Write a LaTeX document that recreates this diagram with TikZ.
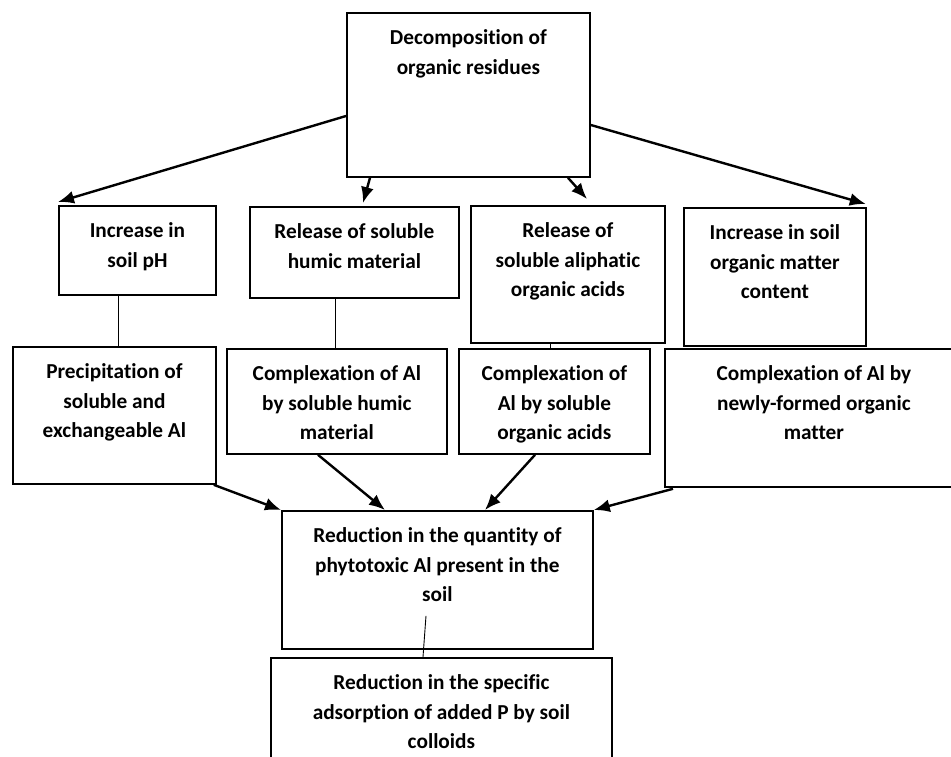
\documentclass[tikz,border=0pt]{standalone}
\usepackage{fontspec}
\setmainfont{Carlito}[Ligatures=NoCommon]
\usetikzlibrary{arrows.meta}
\newcommand{\bxt}[3]{\parbox[c][#1][t]{#2}{\centering\rule{0pt}{32pt}#3\par}}
\tikzset{
  box/.style={draw, line width=1.8pt, inner sep=0pt, anchor=north west,
    font=\fontsize{21.3}{29.5}\selectfont\bfseries},
  arr/.style={line width=2.4pt, -{Latex[length=16pt,width=13pt]}},
  link/.style={line width=0.9pt}
}
\begin{document}
\begin{tikzpicture}[x=1pt,y=-1pt]
\useasboundingbox (0,0) rectangle (951,757);
\clip (0,0) rectangle (951,757);
\node[box] (T) at (346,12) {\bxt{164pt}{243pt}{Decomposition of\\organic residues}};
\node[box] (A) at (58,205) {\bxt{89pt}{157pt}{Increase in\\soil pH}};
\node[box] (B) at (249,206) {\bxt{91pt}{209pt}{Release of soluble\\humic material}};
\node[box] (C) at (470,205) {\bxt{137pt}{194pt}{Release of\\soluble aliphatic\\organic acids}};
\node[box] (D) at (683,207) {\bxt{138pt}{182pt}{Increase in soil\\organic matter\\content}};
\node[box] (E) at (12,346) {\bxt{137pt}{203pt}{Precipitation of\\soluble and\\exchangeable Al}};
\node[box] (F) at (226,348) {\bxt{105pt}{220pt}{Complexation of Al\\by soluble humic\\material}};
\node[box] (G) at (458,348) {\bxt{105pt}{191pt}{Complexation of\\Al by soluble\\organic acids}};
\node[box] (H) at (664,348) {\bxt{138pt}{298pt}{Complexation of Al by\\newly-formed organic\\matter}};
\node[box] (I) at (281,510) {\bxt{138pt}{311pt}{Reduction in the quantity of\\phytotoxic Al present in the\\soil}};
\node[box] (J) at (270,657) {\bxt{120pt}{341pt}{Reduction in the specific\\adsorption of added P by soil\\colloids}};
% arrows from top
\draw[arr] ([shift={(0,104)}]T.north west) -- ([shift={(0,-3)}]A.north west);
\draw[arr] ([shift={(24,0)}]T.south west) -- ([shift={(114,-3)}]B.north west);
\draw[arr] ([shift={(222,0)}]T.south west) -- ([shift={(117,-6)}]C.north west);
\draw[arr] ([shift={(0,113)}]T.north east) -- ([shift={(-1,-3)}]D.north east);
% thin links
\draw[link] ([shift={(60,0)}]A.south west) -- ([shift={(106,0)}]E.north west);
\draw[link] ([shift={(86,0)}]B.south west) -- ([shift={(109,0)}]F.north west);
\draw[link] ([shift={(80,0)}]C.south west) -- ([shift={(92,0)}]G.north west);
\draw[link] ([shift={(145,-34)}]I.south west) -- ([shift={(153,0)}]J.north west);
% arrows into I
\draw[arr] ([shift={(-3,0)}]E.south east) -- (I.north west);
\draw[arr] ([shift={(92,0)}]F.south west) -- ([shift={(104,0)}]I.north west);
\draw[arr] ([shift={(77,0)}]G.south west) -- ([shift={(204,0)}]I.north west);
\draw[arr] ([shift={(9,1)}]H.south west) -- (I.north east);
\end{tikzpicture}
\end{document}
